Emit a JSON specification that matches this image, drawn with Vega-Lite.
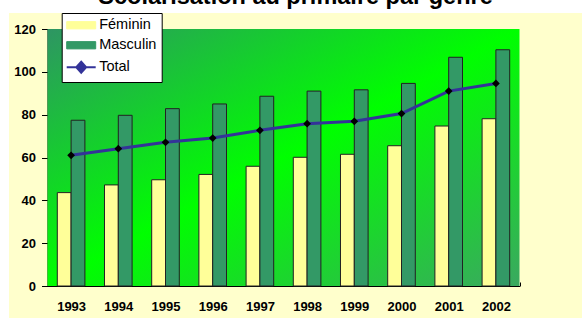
{
  "$schema": "https://vega.github.io/schema/vega-lite/v6.json",
  "width": 573,
  "height": 305,
  "autosize": {"type": "none"},
  "padding": {"left": 9, "top": 13, "right": 0, "bottom": 0},
  "background": "white",
  "title": {
    "text": "Scolarisation au primaire par genre",
    "font": "Liberation Sans",
    "fontSize": 23.5,
    "fontWeight": "bold",
    "color": "black",
    "anchor": "middle",
    "baseline": "alphabetic",
    "offset": -15
  },
  "config": {
    "view": {"fill": "#FFFFCC", "stroke": null},
    "axis": {
      "labelFont": "Liberation Sans",
      "labelFontSize": 13,
      "labelFontWeight": "bold",
      "labelColor": "black",
      "domainColor": "black",
      "tickColor": "black",
      "grid": false,
      "zindex": 1
    },
    "legend": {
      "title": null, "orient": "none", "legendX": 52.7, "legendY": 0,
      "fillColor": "white", "strokeColor": "black", "padding": 5,
      "labelFont": "Liberation Sans", "labelFontSize": 14.5, "labelColor": "black", "labelLimit": 200,
      "labelOffset": 18, "rowPadding": 5, "symbolSize": 841
    }
  },
  "datasets": {
    "frame": [{"x0": 0, "x1": 1, "y0": 0, "y1": 120}],
    "enrol": [
      {"year": "1993", "series": "Féminin", "value": 43.6},
      {"year": "1993", "series": "Masculin", "value": 77.4},
      {"year": "1993", "series": "Total", "value": 61.0},
      {"year": "1994", "series": "Féminin", "value": 47.2},
      {"year": "1994", "series": "Masculin", "value": 79.7},
      {"year": "1994", "series": "Total", "value": 64.1},
      {"year": "1995", "series": "Féminin", "value": 49.6},
      {"year": "1995", "series": "Masculin", "value": 82.8},
      {"year": "1995", "series": "Total", "value": 67.1},
      {"year": "1996", "series": "Féminin", "value": 52.1},
      {"year": "1996", "series": "Masculin", "value": 85.0},
      {"year": "1996", "series": "Total", "value": 69.1},
      {"year": "1997", "series": "Féminin", "value": 55.9},
      {"year": "1997", "series": "Masculin", "value": 88.6},
      {"year": "1997", "series": "Total", "value": 72.7},
      {"year": "1998", "series": "Féminin", "value": 60.1},
      {"year": "1998", "series": "Masculin", "value": 91.0},
      {"year": "1998", "series": "Total", "value": 75.8},
      {"year": "1999", "series": "Féminin", "value": 61.5},
      {"year": "1999", "series": "Masculin", "value": 91.6},
      {"year": "1999", "series": "Total", "value": 76.9},
      {"year": "2000", "series": "Féminin", "value": 65.5},
      {"year": "2000", "series": "Masculin", "value": 94.6},
      {"year": "2000", "series": "Total", "value": 80.5},
      {"year": "2001", "series": "Féminin", "value": 74.7},
      {"year": "2001", "series": "Masculin", "value": 106.8},
      {"year": "2001", "series": "Total", "value": 91.0},
      {"year": "2002", "series": "Féminin", "value": 78.1},
      {"year": "2002", "series": "Masculin", "value": 110.3},
      {"year": "2002", "series": "Total", "value": 94.6}
    ]
  },
  "layer": [
    {
      "data": {"name": "frame"},
      "mark": {
        "type": "rect",
        "fill": {
          "gradient": "linear",
          "x1": 0, "y1": 0, "x2": 1, "y2": 1,
          "stops": [
            {"offset": 0, "color": "#2e9563"},
            {"offset": 0.5, "color": "#00ff00"},
            {"offset": 1, "color": "#3aa860"}
          ]
        }
      },
      "encoding": {
        "x": {"field": "x0", "type": "quantitative", "scale": {"domain": [0, 1], "range": [38.5, 510.5]}, "axis": null},
        "x2": {"field": "x1"},
        "y": {
          "field": "y0", "type": "quantitative",
          "scale": {"domain": [0, 120], "range": [273, 16], "nice": false, "zero": false},
          "axis": {"title": null, "values": [0, 20, 40, 60, 80, 100, 120], "offset": -38.5, "tickSize": 6, "labelPadding": 6}
        },
        "y2": {"field": "y1"}
      }
    },
    {
      "data": {"name": "enrol"},
      "layer": [
        {
          "transform": [{"filter": "datum.series !== 'Total'"}],
          "mark": {"type": "bar", "stroke": "#222222", "strokeWidth": 1},
          "encoding": {
            "x": {
              "field": "year", "type": "nominal",
              "scale": {"type": "band", "range": [38.5, 510.5], "paddingInner": 0, "paddingOuter": 0},
              "axis": {"title": null, "orient": "bottom", "offset": -32, "tickBand": "extent", "tickSize": -4, "labelPadding": 18, "labelAngle": 0}
            },
            "xOffset": {"field": "series", "type": "nominal", "scale": {"domain": ["Féminin", "Masculin"], "paddingInner": 0, "paddingOuter": 0.71}},
            "y": {"field": "value", "type": "quantitative", "axis": {"title": null, "values": [0, 20, 40, 60, 80, 100, 120], "offset": -38.5, "tickSize": 6, "labelPadding": 6}},
            "color": {
              "field": "series", "type": "nominal",
              "scale": {"domain": ["Féminin", "Masculin", "Total"], "range": ["#FFFF99", "#339966", "#333399"]},
              "legend": {
                "title": null, "labelFontSize": 14.5, "labelOffset": 18,
                "encode": {
                  "symbols": {
                    "update": {
                      "shape": {"signal": "datum.label === 'Total' ? 'M-1,0H1M0,-0.38L0.34,0L0,0.38L-0.34,0Z' : 'M-1,-0.25H1V0.25H-1Z'"},
                      "fill": {"signal": "datum.label === 'Total' ? 'black' : (datum.label === 'Féminin' ? '#FFFF99' : '#339966')"},
                      "stroke": {"signal": "datum.label === 'Total' ? '#333399' : '#222222'"},
                      "strokeWidth": {"signal": "datum.label === 'Total' ? 2 : 1"},
                      "size": {"value": 841},
                      "xc": {"value": 14.5},
                      "opacity": {"value": 1},
                      "fillOpacity": {"value": 1}
                    }
                  }
                }
              }
            }
          }
        },
        {
          "transform": [{"filter": "datum.series === 'Total'"}],
          "mark": {"type": "line", "strokeWidth": 3},
          "encoding": {
            "x": {"field": "year", "type": "nominal"},
            "y": {"field": "value", "type": "quantitative", "axis": {"title": null, "values": [0, 20, 40, 60, 80, 100, 120], "offset": -38.5, "tickSize": 6, "labelPadding": 6}},
            "color": {
              "field": "series", "type": "nominal",
              "legend": {
                "title": null, "labelFontSize": 14.5, "labelOffset": 18,
                "encode": {
                  "symbols": {
                    "update": {
                      "shape": {"signal": "datum.label === 'Total' ? 'M-1,0H1M0,-0.38L0.34,0L0,0.38L-0.34,0Z' : 'M-1,-0.25H1V0.25H-1Z'"},
                      "fill": {"signal": "datum.label === 'Total' ? 'black' : (datum.label === 'Féminin' ? '#FFFF99' : '#339966')"},
                      "stroke": {"signal": "datum.label === 'Total' ? '#333399' : '#222222'"},
                      "strokeWidth": {"signal": "datum.label === 'Total' ? 2 : 1"},
                      "size": {"value": 841},
                      "xc": {"value": 14.5},
                      "opacity": {"value": 1},
                      "fillOpacity": {"value": 1}
                    }
                  }
                }
              }
            }
          }
        },
        {
          "transform": [{"filter": "datum.series === 'Total'"}],
          "mark": {"type": "point", "shape": "diamond", "filled": true, "color": "black", "size": 60, "opacity": 1},
          "encoding": {
            "x": {"field": "year", "type": "nominal"},
            "y": {"field": "value", "type": "quantitative", "axis": {"title": null, "values": [0, 20, 40, 60, 80, 100, 120], "offset": -38.5, "tickSize": 6, "labelPadding": 6}}
          }
        }
      ]
    }
  ],
  "resolve": {"scale": {"x": "independent"}}
}
